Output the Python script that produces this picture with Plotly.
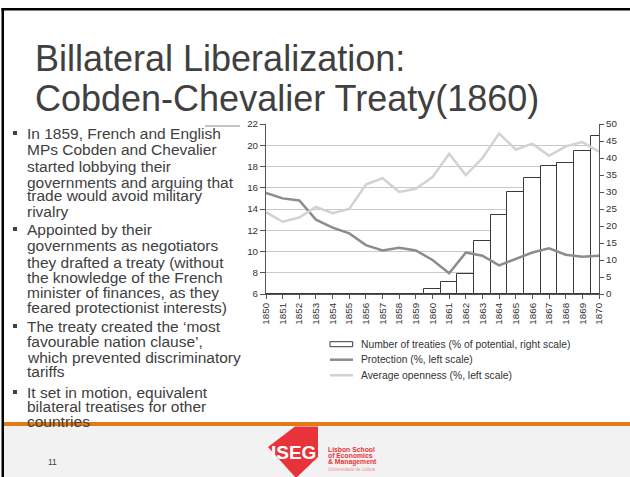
import plotly.graph_objects as go

# data
years = list(range(1850, 1871))
treaties = [0, 0, 0, 0, 0, 0, 0, 0, 0, 0,
            1.5, 3.4, 5.8, 15.5, 23.2, 29.9, 34.1, 37.6, 38.4, 42.1, 46.4]
protection = [15.5, 15.0, 14.8, 13.0, 12.25, 11.7, 10.6, 10.1, 10.35, 10.1,
              9.2, 7.95, 9.9, 9.6, 8.7, 9.3, 9.9, 10.3, 9.7, 9.5, 9.6]
openness = [13.7, 12.8, 13.2, 14.2, 13.6, 14.0, 16.3, 16.9, 15.6, 15.9,
            17.0, 19.2, 17.2, 18.8, 21.1, 19.6, 20.15, 19.0, 19.9, 20.3, 19.4]
year_labels = [str(y) for y in years]
legend_labels = ["Number of treaties (% of potential, right scale)",
                 "Protection (%, left scale)",
                 "Average openness (%, left scale)"]

title_lines = ["Billateral Liberalization:", "Cobden-Chevalier Treaty(1860)"]
body_lines = [
    "In 1859, French and English", "MPs Cobden and Chevalier", "started lobbying their",
    "governments and arguing that", "trade would avoid military", "rivalry",
    "Appointed by their", "governments as negotiators", "they drafted a treaty (without",
    "the knowledge of the French", "minister of finances, as they",
    "feared protectionist interests)",
    "The treaty created the \u2018most", "favourable nation clause\u2019,",
    "which prevented discriminatory", "tariffs",
    "It set in motion, equivalent", "bilateral treatises for other", "countries",
]
body_y = [133, 149, 166, 182, 195, 211, 229, 245, 262, 277, 292, 307,
          326, 341, 357, 371, 392, 406, 421]
bullet_rows = [0, 6, 12, 16]

# plot area in pixels
L, R, T, B = 266, 599, 124, 294


def px(x):
    return (x - L) / (R - L)


def py(y):
    return (B - y) / (B - T)


FONT = "Liberation Sans, Arial, sans-serif"
TXT = "#404040"

fig = go.Figure()
fig.add_trace(go.Bar(x=years, y=treaties, width=1, yaxis="y",
                     marker=dict(color="white", line=dict(color="#3a3a3a", width=1))))
fig.add_trace(go.Scatter(x=years, y=protection, yaxis="y2", mode="lines",
                         line=dict(color="#8c8c8c", width=2.5)))
fig.add_trace(go.Scatter(x=years, y=openness, yaxis="y2", mode="lines",
                         line=dict(color="#d2d2d2", width=2.5)))

ann = []
shapes = []


def text(x, y, t, size, color=TXT, anchor="left", family=FONT):
    ann.append(dict(xref="paper", yref="paper", x=px(x), y=py(y), text=t,
                    showarrow=False, xanchor=anchor, yanchor="middle",
                    font=dict(family=family, size=size, color=color)))


# title
for t, y in zip(title_lines, [58.5, 98.5]):
    text(33, y, t, 36)

# body text
for t, y in zip(body_lines, body_y):
    text(25, y, t, 15.5)
for r in bullet_rows:
    y = body_y[r]
    shapes.append(dict(type="rect", xref="paper", yref="paper",
                       x0=px(13), x1=px(17), y0=py(y - 2), y1=py(y + 2),
                       fillcolor=TXT, line=dict(width=0)))

# legend
shapes.append(dict(type="rect", xref="paper", yref="paper",
                   x0=px(330), x1=px(352.7), y0=py(346.7), y1=py(341.7),
                   fillcolor="white", line=dict(color="#3a3a3a", width=1)))
shapes.append(dict(type="line", xref="paper", yref="paper",
                   x0=px(330), x1=px(353), y0=py(359.7), y1=py(359.7),
                   line=dict(color="#8c8c8c", width=2.5)))
shapes.append(dict(type="line", xref="paper", yref="paper",
                   x0=px(330), x1=px(353), y0=py(375.3), y1=py(375.3),
                   line=dict(color="#d2d2d2", width=2.5)))
for t, y in zip(legend_labels, [344, 359.7, 375.3]):
    text(359, y, t, 10.3, "#333333")

# small border of the pasted chart
shapes.append(dict(type="line", xref="paper", yref="paper",
                   x0=px(205), x1=px(240), y0=py(126), y1=py(126),
                   line=dict(color="#888888", width=1)))

# slide frame and footer
shapes.append(dict(type="rect", xref="paper", yref="paper", layer="below",
                   x0=px(4), x1=px(631), y0=py(426), y1=py(478),
                   fillcolor="#f2f2f2", line=dict(width=0)))
shapes.append(dict(type="rect", xref="paper", yref="paper",
                   x0=px(4), x1=px(631), y0=py(422), y1=py(426),
                   fillcolor="#e07b16", line=dict(width=0)))
shapes.append(dict(type="rect", xref="paper", yref="paper",
                   x0=px(1.5), x1=px(4), y0=py(8), y1=py(478),
                   fillcolor="black", line=dict(width=0)))
shapes.append(dict(type="rect", xref="paper", yref="paper",
                   x0=px(1.5), x1=px(631), y0=py(8), y1=py(10.5),
                   fillcolor="black", line=dict(width=0)))

# logo
logo = [(295, 426.5), (318, 426.5), (318, 457), (296, 478), (268, 447)]
path = "M " + " L ".join(f"{px(a):.4f},{py(b):.4f}" for a, b in logo) + " Z"
shapes.append(dict(type="path", xref="paper", yref="paper", path=path,
                   fillcolor="#e8333a", line=dict(width=0)))
text(293, 452, "<b>ISEG</b>", 19, "white", "center")
for t, y, s, c in [("<b>Lisbon School</b>", 449, 6.8, "#e8333a"),
                   ("<b>of Economics</b>", 455.5, 6.8, "#e8333a"),
                   ("<b>& Management</b>", 462, 6.8, "#e8333a"),
                   ("Universidade de Lisboa", 469, 4.5, "#f09090")]:
    text(326, y, t, s, c)
text(52, 462, "11", 8.5, TXT, "center")

tickfont = dict(family=FONT, size=9.8, color="#333333")
fig.update_layout(
    width=630, height=477, autosize=False,
    margin=dict(l=L, r=630 - R, t=T, b=477 - B, pad=0),
    paper_bgcolor="white", plot_bgcolor="white",
    showlegend=False,
    bargap=0,
    xaxis=dict(range=[1850, 1870], tickmode="array", tickvals=years, ticktext=year_labels,
               tickangle=-90, ticks="outside", ticklen=4, tickcolor="#555555",
               showline=True, linecolor="#555555", linewidth=1, showgrid=False,
               zeroline=False, tickfont=tickfont),
    yaxis=dict(range=[0, 50], side="right", dtick=5, ticks="outside", ticklen=4,
               tickcolor="#555555", showline=True, linecolor="#555555", linewidth=1,
               showgrid=False, zeroline=False, tickfont=tickfont),
    yaxis2=dict(range=[6, 22], side="left", overlaying="y", dtick=2, ticks="outside",
                ticklen=5, tickcolor="#555555", showline=True, linecolor="#555555",
                linewidth=1, showgrid=True, gridcolor="#c8c8c8", gridwidth=1.2,
                zeroline=False, tickfont=tickfont),
    annotations=ann,
    shapes=shapes,
)

# the page body has a default 8px margin; drop it so the figure sits at 0,0
fig.write_html("out.html", config={"displayModeBar": False},
               post_script="document.body.style.margin='0';")
